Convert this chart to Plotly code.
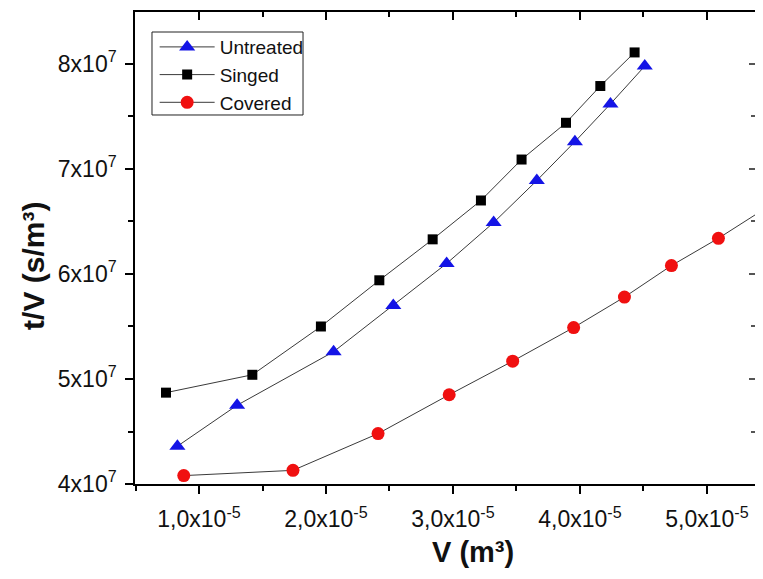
import plotly.graph_objects as go

# ---- data ----
untreated_v = [0.83e-5, 1.30e-5, 2.06e-5, 2.53e-5, 2.95e-5, 3.32e-5, 3.66e-5, 3.96e-5, 4.24e-5, 4.51e-5]
untreated_tv = [4.36e7, 4.75e7, 5.26e7, 5.70e7, 6.10e7, 6.49e7, 6.89e7, 7.26e7, 7.62e7, 7.98e7]

singed_v = [0.74e-5, 1.42e-5, 1.96e-5, 2.42e-5, 2.84e-5, 3.22e-5, 3.54e-5, 3.89e-5, 4.16e-5, 4.43e-5]
singed_tv = [4.87e7, 5.04e7, 5.50e7, 5.94e7, 6.33e7, 6.70e7, 7.09e7, 7.44e7, 7.79e7, 8.11e7]

covered_v = [0.88e-5, 1.74e-5, 2.41e-5, 2.97e-5, 3.47e-5, 3.95e-5, 4.35e-5, 4.72e-5, 5.09e-5, 5.44e-5]
covered_tv = [4.08e7, 4.13e7, 4.48e7, 4.85e7, 5.17e7, 5.49e7, 5.78e7, 6.08e7, 6.34e7, 6.61e7]

x_tickvals = [1e-5, 2e-5, 3e-5, 4e-5, 5e-5]
x_ticktext = ["1,0x10<sup>-5</sup>", "2,0x10<sup>-5</sup>", "3,0x10<sup>-5</sup>",
              "4,0x10<sup>-5</sup>", "5,0x10<sup>-5</sup>"]
x_minor = [0.5e-5, 1.5e-5, 2.5e-5, 3.5e-5, 4.5e-5]
y_tickvals = [4e7, 5e7, 6e7, 7e7, 8e7]
y_ticktext = ["4x10<sup>7</sup>", "5x10<sup>7</sup>", "6x10<sup>7</sup>", "7x10<sup>7</sup>", "8x10<sup>7</sup>"]
y_minor = [4.5e7, 5.5e7, 6.5e7, 7.5e7]

x_title = "<b>V (m³)</b>"
y_title = "<b>t/V (s/m³)</b>"

x_range = [0.4961e-5, 5.378e-5]
y_range = [4.0e7, 8.495e7]

FONT = "Liberation Sans, Arial, sans-serif"
LINE = "#3a3a3a"

fig = go.Figure()
fig.add_trace(go.Scatter(x=untreated_v, y=untreated_tv, name="Untreated", mode="lines+markers",
                         line=dict(color=LINE, width=1),
                         marker=dict(symbol="triangle-up", size=14, color="#1414e6"),
                         cliponaxis=False))
fig.add_trace(go.Scatter(x=singed_v, y=singed_tv, name="Singed", mode="lines+markers",
                         line=dict(color=LINE, width=1),
                         marker=dict(symbol="square", size=10, color="#000000"),
                         cliponaxis=False))
fig.add_trace(go.Scatter(x=covered_v, y=covered_tv, name="Covered", mode="lines+markers",
                         line=dict(color=LINE, width=1),
                         marker=dict(symbol="circle", size=13, color="#f01010"),
                         cliponaxis=False))

fig.update_layout(
    width=747, height=563,
    margin=dict(l=127, r=0, t=4, b=87, autoexpand=False),
    paper_bgcolor="white", plot_bgcolor="white",
    font=dict(family=FONT, color="#111111", size=19),
    showlegend=True,
    legend=dict(x=0.0317, y=0.966, xanchor="left", yanchor="top",
                borderwidth=0, bgcolor="rgba(0,0,0,0)",
                font=dict(size=19, family=FONT), itemwidth=55,
                tracegroupgap=0),
    shapes=[dict(type="rect", xref="paper", yref="paper",
                 x0=0.0274, x1=0.2710, y0=0.7818, y1=0.9576,
                 line=dict(color="#222222", width=1), fillcolor="rgba(0,0,0,0)", layer="above")],
    annotations=[
        dict(text=x_title, xref="paper", yref="paper", x=0.545, y=-0.1815,
             xanchor="center", yanchor="bottom", showarrow=False,
             font=dict(size=29, family=FONT, color="#111111")),
        dict(text=y_title, xref="paper", yref="paper", x=-0.163, y=0.462,
             xanchor="center", yanchor="middle", showarrow=False, textangle=-90,
             font=dict(size=30, family=FONT, color="#111111")),
    ],
    xaxis=dict(range=x_range, tickmode="array", tickvals=x_tickvals, ticktext=x_ticktext,
               automargin=False, ticklabelstandoff=6,
               showgrid=False, zeroline=False, showline=True, linecolor="#000", linewidth=1.5,
               ticks="outside", ticklen=8, tickwidth=1.5, tickcolor="#000",
               tickfont=dict(size=23, family=FONT),
               minor=dict(tickvals=x_minor, ticks="outside", ticklen=5, tickwidth=1.5, tickcolor="#000")),
    yaxis=dict(range=y_range, tickmode="array", tickvals=y_tickvals, ticktext=y_ticktext,
               automargin=False, ticklabelstandoff=4,
               showgrid=False, zeroline=False, showline=True, linecolor="#000", linewidth=1.5,
               ticks="outside", ticklen=8, tickwidth=1.5, tickcolor="#000",
               tickfont=dict(size=23, family=FONT),
               minor=dict(tickvals=y_minor, ticks="outside", ticklen=5, tickwidth=1.5, tickcolor="#000")),
    xaxis2=dict(range=x_range, overlaying="x", side="top", tickmode="array", automargin=False,
                tickvals=x_tickvals, showticklabels=False, showgrid=False, zeroline=False,
                showline=True, linecolor="#000", linewidth=1.5,
                ticks="inside", ticklen=8, tickwidth=1.5, tickcolor="#000",
                minor=dict(tickvals=x_minor, ticks="inside", ticklen=5, tickwidth=1.5, tickcolor="#000")),
    yaxis2=dict(range=y_range, overlaying="y", side="right", tickmode="array", automargin=False,
                tickvals=y_tickvals, showticklabels=False, showgrid=False, zeroline=False,
                showline=False, ticks="inside", ticklen=6, tickwidth=1.5, tickcolor="#555",
                minor=dict(tickvals=y_minor, ticks="inside", ticklen=4, tickwidth=1.5, tickcolor="#555")),
)
# invisible trace to activate the mirror axes
fig.add_trace(go.Scatter(x=[None], y=[None], xaxis="x2", yaxis="y2", showlegend=False, hoverinfo="skip"))

fig.write_html("out.html")
